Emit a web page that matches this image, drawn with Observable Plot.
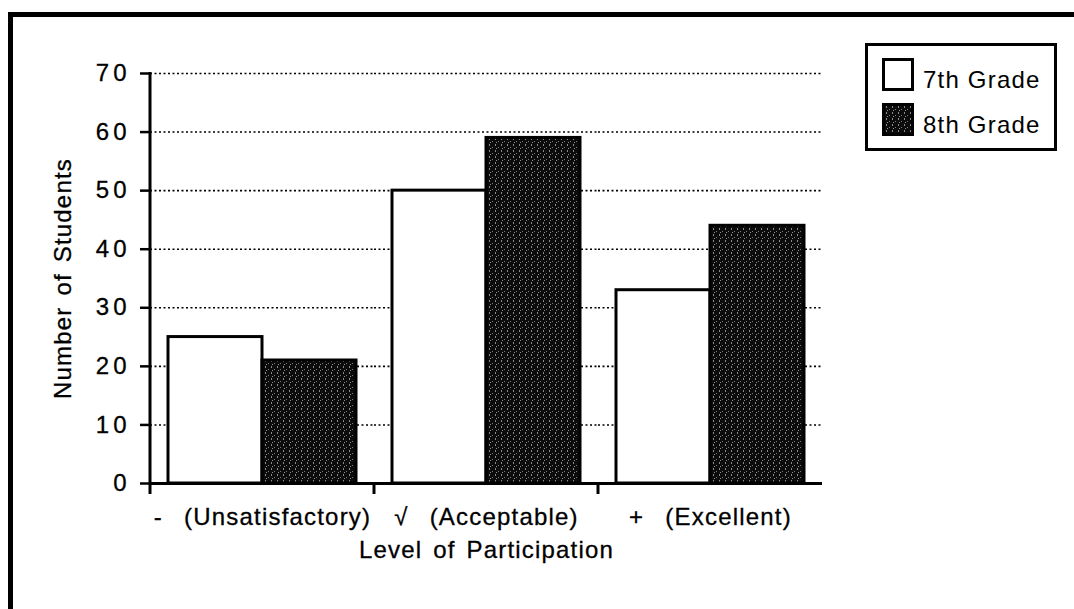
<!DOCTYPE html>
<html><head><meta charset="utf-8">
<script src="https://cdn.jsdelivr.net/npm/d3@7"></script>
<script src="https://cdn.jsdelivr.net/npm/@observablehq/plot@0.6"></script>
<style>
html,body{margin:0;padding:0;background:#fff;overflow:hidden;width:1074px;height:609px;}
#frame{position:absolute;left:8px;top:12px;width:1200px;height:800px;border:5px solid #000;box-sizing:border-box;}
#chart{position:absolute;left:0;top:0;}
#legend{position:absolute;left:865px;top:43px;width:192px;height:108px;border:3px solid #000;box-sizing:border-box;background:#fff;font-family:"Liberation Sans",Arial,sans-serif;font-size:24px;line-height:24px;letter-spacing:1.2px;color:#000;}
.sw{position:absolute;left:14px;width:32px;height:33px;border:3px solid #000;box-sizing:border-box;}
.lt{position:absolute;left:55px;white-space:nowrap;}
g[aria-label="y-axis tick label"] text{letter-spacing:4px;}
g[aria-label="fx-axis tick label"] text{letter-spacing:1.2px;}
g[aria-label="y-axis label"] text, g[aria-label="fx-axis label"] text{letter-spacing:1.2px;word-spacing:3px;}
svg text{stroke:#000;stroke-width:0.3px;}
</style></head><body>
<div id="frame"></div>
<div id="chart"></div>
<div id="legend"></div>
<svg width="0" height="0" style="position:absolute">
  <defs>
    <pattern id="stipple" width="6" height="6" patternUnits="userSpaceOnUse">
      <rect width="6" height="6" fill="#0c0c0c"/>
      <rect x="1" y="0" width="1" height="2" fill="#8a8a8a"/>
      <rect x="4" y="3" width="1" height="1" fill="#7a7a7a"/>
      <rect x="2" y="4" width="1" height="1" fill="#909090"/>
    </pattern>
  </defs>
</svg>
<script>
const categories = ["- (Unsatisfactory)", "√ (Acceptable)", "+ (Excellent)"];
const grades = ["7th Grade", "8th Grade"];
const grade7 = [25, 50, 33];
const grade8 = [21, 59, 44];
const yTicks = [0, 10, 20, 30, 40, 50, 60, 70];
const yLabel = "Number of Students";
const xLabel = "Level of Participation";

const data = categories.flatMap((c, i) => [
  {cat: c, grade: grades[0], value: grade7[i]},
  {cat: c, grade: grades[1], value: grade8[i]}
]);

const plot = Plot.plot({
  width: 1074, height: 609,
  marginLeft: 150, marginRight: 252, marginTop: 73, marginBottom: 126,
  style: {fontFamily: '"Liberation Sans", Arial, sans-serif', fontSize: "24px", color: "#000", background: "transparent", overflow: "visible"},
  fx: {domain: categories, padding: 0, label: null},
  x: {domain: grades, paddingInner: 0, paddingOuter: 0.19, axis: null},
  y: {domain: [0, 70]},
  color: {domain: grades, range: ["#fff", "url(#stipple)"]},
  marks: [
    Plot.gridY(yTicks.filter(v => v > 0), {stroke: "#000", strokeOpacity: 1, strokeWidth: 1.6, strokeDasharray: "2,2.5"}),
    Plot.barY(data, {fx: "cat", x: "grade", y: "value", fill: "grade", stroke: "#000", strokeWidth: 3}),
    Plot.ruleY([0], {stroke: "#000", strokeWidth: 3}),
    Plot.axisY({ticks: yTicks, tickSize: 10, tickPadding: 10, strokeWidth: 2.5, label: yLabel, labelAnchor: "center", labelOffset: 97, labelArrow: "none"}),
    Plot.axisFx({anchor: "bottom", tickSize: 0, tickPadding: 24, label: xLabel, labelAnchor: "center", labelOffset: 74, labelArrow: "none", tickFormat: d => d.replace(" ", "\u2002 ")})
  ]
});

const fxS = plot.scale("fx"), yS = plot.scale("y");
const svg = d3.select(plot);
const x0 = fxS.apply(categories[0]);
svg.append("line").attr("x1", x0).attr("x2", x0)
  .attr("y1", yS.apply(yTicks[yTicks.length - 1]) - 1).attr("y2", yS.apply(0) + 11)
  .attr("stroke", "#000").attr("stroke-width", 3);
categories.slice(1).forEach(c => {
  const x = fxS.apply(c);
  svg.append("line").attr("x1", x).attr("x2", x)
    .attr("y1", yS.apply(0)).attr("y2", yS.apply(0) + 11)
    .attr("stroke", "#000").attr("stroke-width", 3);
});
document.getElementById("chart").appendChild(plot);

const legend = d3.select("#legend");
grades.forEach((g, i) => {
  const sw = legend.append("div").attr("class", "sw")
    .style("top", (12 + i * 45) + "px")
    .style("background", "#fff");
  if (i === 1) {
    const s = sw.append("svg").attr("width", 26).attr("height", 27).style("display", "block");
    s.append("rect").attr("width", 26).attr("height", 27).attr("fill", "url(#stipple)");
  }
  legend.append("div").attr("class", "lt")
    .style("top", (22 + i * 45) + "px").text(g);
});
</script>
</body></html>
